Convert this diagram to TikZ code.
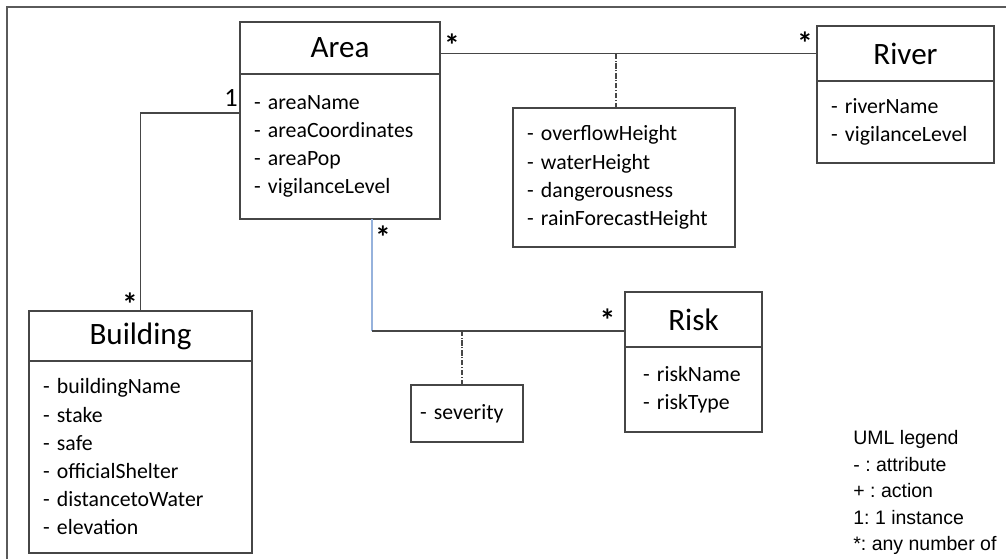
\documentclass[tikz,border=0pt]{standalone}
\usepackage{fontspec}
\setmainfont{Carlito}
\newfontfamily\legendfont{Liberation Sans}
\usetikzlibrary{positioning}
\frenchspacing
\definecolor{boxgray}{RGB}{70,70,70}
\definecolor{framegray}{RGB}{90,90,90}
\definecolor{linkblue}{RGB}{150,178,220}
\newcommand{\headfont}{\fontsize{17.7}{20}\selectfont}
\newcommand{\attrfont}{\fontsize{12.4}{16.05}\selectfont}
\newcommand{\multfont}{\fontsize{15}{18}\selectfont}
\tikzstyle{assoc} = [draw=boxgray, line width=0.7pt]
\tikzstyle{assocblue} = [draw=linkblue, line width=0.7pt]
\tikzstyle{assocclass} = [draw=boxgray, line width=0.6pt, densely dash dot]
\tikzstyle{classhead} = [rectangle, draw=boxgray, line width=0.75pt, outer sep=0pt,
inner sep=0pt, font=\headfont]
\tikzstyle{classbody} = [rectangle, draw=boxgray, line width=0.75pt, outer sep=0pt,
inner ysep=0pt, inner xsep=0.28cm, align=left, font=\attrfont]
\tikzstyle{mult} = [inner sep=0pt, font=\multfont]
\tikzstyle{star} = [inner sep=0pt, font=\fontsize{18}{20}\selectfont\bfseries]

\begin{document}
\begin{tikzpicture}[x=0.02cm, y=-0.02cm]
				\useasboundingbox (0,0) rectangle (1006,559);
				\draw[framegray, line width=0.8pt] (7,559) -- (7,7) -- (1006,7);
				% Place classes
				\node (areahead) [classhead, minimum width=4cm, minimum height=1.04cm] at (340,48) {Area};
				\node (areabody) [classbody, below=0pt of areahead, text width=3.44cm, minimum height=2.9cm]
				{-~areaName\\-~areaCoordinates\\-~areaPop\\-~vigilanceLevel};
				\node (riverhead) [classhead, minimum width=3.54cm, minimum height=1.1cm] at (905.5,53.5) {River};
				\node (riverbody) [classbody, below=0pt of riverhead, text width=2.98cm, minimum height=1.64cm]
				{-~riverName\\-~vigilanceLevel};
				\node (buildhead) [classhead, minimum width=4.46cm, minimum height=1cm] at (140.5,336) {Building};
				\node (buildbody) [classbody, below=0pt of buildhead, text width=3.9cm, minimum height=3.84cm]
				{-~buildingName\\-~stake\\-~safe\\-~officialShelter\\-~distancetoWater\\-~elevation};
				\node (riskhead) [classhead, minimum width=2.74cm, minimum height=1.1cm] at (693.5,319.5) {Risk};
				\node (riskbody) [classbody, below=0pt of riskhead, inner xsep=0.36cm, text width=2.02cm, minimum height=1.7cm]
				{-~riskName\\-~riskType};
				% Association classes
				\node (flowattr) [classbody, text width=3.88cm, minimum height=2.78cm] at (624,177.5)
				{-~overflowHeight\\-~waterHeight\\-~dangerousness\\-~rainForecastHeight};
				\node (severityattr) [classbody, inner xsep=0.18cm, text width=1.88cm, minimum height=1.14cm] at (467,413.5)
				{-~severity};
				
				% Associations
				\draw[assoc] (riverhead.west) -- (riverhead.west -| areahead.east);
				\draw[assoc] ([yshift=-0.78cm]areabody.north west) -| (buildhead.north);
				\coordinate (riskjoin) at ([yshift=-0.23cm]riskhead.west);
				\coordinate (areajoin) at ([xshift=0.64cm]areabody.south);
				\draw[assocblue] (areajoin) -- (areajoin |- riskjoin);
				\draw[assoc] (areajoin |- riskjoin) -- (riskjoin);
				\draw[assocclass] ([xshift=-0.16cm]flowattr.north) -- ([xshift=-0.16cm]flowattr.north |- riverhead.west);
				\draw[assocclass] ([xshift=-0.1cm]severityattr.north) -- ([xshift=-0.1cm]severityattr.north |- riskjoin);
				
				% Multiplicities
				\node[star] (mAreaRiver) at (452,45) {*};
				\node[star] (mRiverArea) at (805,43) {*};
				\node[mult] (mAreaBuild) at (231,98) {1};
				\node[star] (mBuildArea) at (130,304) {*};
				\node[star] (mAreaRisk) at (383,237) {*};
				\node[star] (mRiskArea) at (607.5,320) {*};
				
				% Legend
				\node (legend) [anchor=north west, align=left, inner sep=0pt,
				font=\legendfont\fontsize{11.1}{15.1}\selectfont] at (853,430)
				{UML legend\\- : attribute\\+ : action\\1: 1 instance\\*: any number of};
				
			\end{tikzpicture}
\end{document}
